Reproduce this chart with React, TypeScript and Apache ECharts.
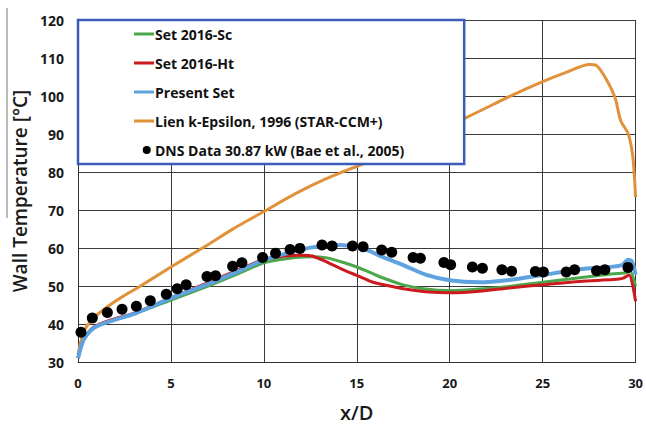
import React, { useEffect, useRef } from "react";
import * as echarts from "echarts";

const xTickLabels = ["0", "5", "10", "15", "20", "25", "30"];
const yTickLabels = ["30", "40", "50", "60", "70", "80", "90", "100", "110", "120"];

const scX = [0, 0.3, 0.8, 1.6, 3.1, 5, 7, 8.5, 10, 11.2, 12.5, 13.4, 14.4, 15, 15.7, 16.2, 17.5, 18.7, 20, 21.6, 23.2, 25, 27, 28.8, 29.5, 29.7, 30];
const scY = [31, 35.8, 38.8, 40.6, 42.8, 46.3, 50.0, 53.0, 56.1, 57.2, 57.7, 57.4, 56.0, 55.0, 53.6, 52.5, 50.3, 49.2, 48.8, 49.2, 49.9, 51.0, 52.2, 53.2, 53.5, 53.9, 50];

const htX = [0, 0.3, 0.8, 1.6, 3.1, 5, 7, 8.5, 10, 11.2, 12.0, 12.6, 13.4, 14.4, 15, 15.7, 16.2, 17.5, 18.7, 20, 21.6, 23.2, 25, 27, 28.8, 29.3, 29.65, 30];
const htY = [31, 35.9, 39.0, 40.8, 43.0, 46.9, 50.9, 54.0, 57.0, 57.9, 58.1, 57.9, 56.3, 54.0, 52.8, 51.3, 50.6, 49.3, 48.5, 48.2, 48.6, 49.5, 50.3, 51.2, 51.7, 52.0, 52.9, 46.0];

const presX = [0, 0.3, 0.8, 1.6, 3.1, 5, 7, 8.5, 10, 11.7, 12.5, 14.1, 15, 15.7, 16.2, 17.5, 18.7, 20, 21.6, 23.2, 25, 27, 28.8, 29.3, 29.6, 29.8, 30];
const presY = [31, 35.8, 38.8, 40.5, 42.8, 46.8, 50.5, 53.6, 56.8, 59.2, 60.1, 60.8, 60.2, 59.2, 58.0, 55.5, 53.0, 51.5, 51.0, 51.6, 52.9, 54.4, 55.1, 55.6, 56.9, 56.5, 53.0];

const lienX = [0, 0.3, 0.8, 1.6, 2.4, 3.3, 5, 6.9, 8.3, 10, 11.7, 13.3, 15, 15.7, 21, 23.4, 25, 26.3, 27.5, 27.9, 28.4, 28.9, 29.2, 29.6, 29.85, 30];
const lienY = [32, 37.9, 41.4, 44.6, 47.2, 49.8, 55.0, 60.6, 64.9, 69.6, 74.3, 78.1, 81.5, 82.8, 94.6, 100.3, 103.8, 106.3, 108.3, 108.0, 104.6, 99.5, 93.5, 90.1, 84.1, 73.4];

const dnsX = [0.16, 0.77, 1.58, 2.37, 3.14, 3.89, 4.75, 5.34, 5.82, 6.94, 7.40, 8.32, 8.82, 9.93, 10.63, 11.41, 11.94, 13.13, 13.67, 14.77, 15.34, 16.34, 16.88, 18.03, 18.42, 19.69, 20.05, 21.22, 21.76, 22.81, 23.33, 24.61, 25.04, 26.27, 26.72, 27.90, 28.35, 29.59];
const dnsY = [37.8, 41.6, 43.0, 43.9, 44.7, 46.1, 47.8, 49.3, 50.3, 52.5, 52.7, 55.2, 56.1, 57.5, 58.6, 59.6, 59.9, 60.8, 60.5, 60.5, 60.3, 59.5, 58.9, 57.5, 57.3, 56.2, 55.6, 55.0, 54.7, 54.3, 53.9, 53.8, 53.7, 53.7, 54.3, 54.0, 54.3, 54.9];

const zip = (xs: number[], ys: number[]) => xs.map((x, i) => [x, ys[i]]);

const LINE_ICON = "path://M0,0 L0,14 M0,5.5 L20,5.5 L20,8.5 L0,8.5 Z";
const DOT_ICON = "path://M0,0 L0,14 M13.5,7 A4,4 0 1 1 5.5,7 A4,4 0 1 1 13.5,7 Z";

export default function App() {
  const ref = useRef<HTMLDivElement>(null);
  useEffect(() => {
    if (!ref.current) return;
    const chart = echarts.init(ref.current, null, { renderer: "svg" });
    const font = "'Open Sans', 'Liberation Sans', sans-serif";
    const lineSeries = (name: string, xs: number[], ys: number[], color: string, width: number, z: number) => ({
      name,
      type: "line",
      data: zip(xs, ys),
      symbol: "none",
      smooth: 0.25,
      z,
      lineStyle: { color, width },
      itemStyle: { color },
    });
    chart.setOption({
      animation: false,
      textStyle: { fontFamily: font },
      grid: { left: 78, right: 10, top: 20, bottom: 56, containLabel: false },
      xAxis: {
        type: "value",
        min: 0,
        max: 30,
        interval: 5,
        name: "x/D",
        nameLocation: "middle",
        nameGap: 40,
        nameTextStyle: { fontSize: 20, fontWeight: 600, color: "#1a1a1a", fontFamily: font },
        axisLine: { show: true, lineStyle: { color: "#333", width: 1 } },
        axisTick: { show: false },
        axisLabel: {
          margin: 14,
          fontSize: 13,
          fontWeight: "bold",
          color: "#1a1a1a",
          fontFamily: font,
          formatter: (v: number) => xTickLabels[Math.round(v / 5)] ?? "",
        },
        splitLine: { show: true, lineStyle: { color: "#3a3a3a", width: 1 } },
      },
      yAxis: {
        type: "value",
        min: 30,
        max: 120,
        interval: 10,
        name: "Wall Temperature [°C]",
        nameLocation: "middle",
        nameGap: 47,
        nameTextStyle: { fontSize: 19, fontWeight: 600, color: "#1a1a1a", fontFamily: font },
        axisLine: { show: true, lineStyle: { color: "#333", width: 1 } },
        axisTick: { show: false },
        axisLabel: {
          margin: 14,
          fontSize: 14,
          fontWeight: "bold",
          color: "#1a1a1a",
          fontFamily: font,
          formatter: (v: number) => yTickLabels[Math.round((v - 30) / 10)] ?? "",
        },
        splitLine: { show: true, lineStyle: { color: "#3a3a3a", width: 1 } },
      },
      legend: {
        orient: "vertical",
        left: 78,
        top: 20,
        padding: [7, 60, 7, 56],
        itemGap: 15,
        itemWidth: 20,
        itemHeight: 14,
        backgroundColor: "#ffffff",
        borderColor: "#3b5cb8",
        borderWidth: 2.5,
        textStyle: { fontSize: 14, fontWeight: "bold", color: "#111", fontFamily: font, padding: [0, 0, 0, -4] },
        data: [
          { name: "Set 2016-Sc", icon: LINE_ICON, itemStyle: { color: "#4ca64a", borderWidth: 0 } },
          { name: "Set 2016-Ht", icon: LINE_ICON, itemStyle: { color: "#cc1a1f", borderWidth: 0 } },
          { name: "Present Set", icon: LINE_ICON, itemStyle: { color: "#5ea2e0", borderWidth: 0 } },
          { name: "Lien k-Epsilon, 1996 (STAR-CCM+)", icon: LINE_ICON, itemStyle: { color: "#e0913a", borderWidth: 0 } },
          { name: "DNS Data 30.87 kW (Bae et al., 2005)", icon: DOT_ICON, itemStyle: { color: "#000", borderWidth: 0, opacity: 1 } },
        ],
      },
      graphic: [
        {
          type: "line",
          shape: { x1: 7, y1: 8, x2: 7, y2: 218 },
          style: { stroke: "#777", lineWidth: 1 },
        },
      ],
      series: [
        lineSeries("Lien k-Epsilon, 1996 (STAR-CCM+)", lienX, lienY, "#e0913a", 3, 2),
        lineSeries("Set 2016-Sc", scX, scY, "#4ca64a", 3, 3),
        lineSeries("Set 2016-Ht", htX, htY, "#cc1a1f", 3, 4),
        lineSeries("Present Set", presX, presY, "#5ea2e0", 4, 5),
        {
          name: "DNS Data 30.87 kW (Bae et al., 2005)",
          type: "scatter",
          data: zip(dnsX, dnsY),
          symbol: "circle",
          symbolSize: 11,
          z: 6,
          itemStyle: { color: "#000", opacity: 1 },
        },
      ],
    });
    return () => chart.dispose();
  }, []);
  return (
    <div
      ref={ref}
      style={{ position: "absolute", left: 0, top: 0, width: 646, height: 427, background: "#fff" }}
    />
  );
}
